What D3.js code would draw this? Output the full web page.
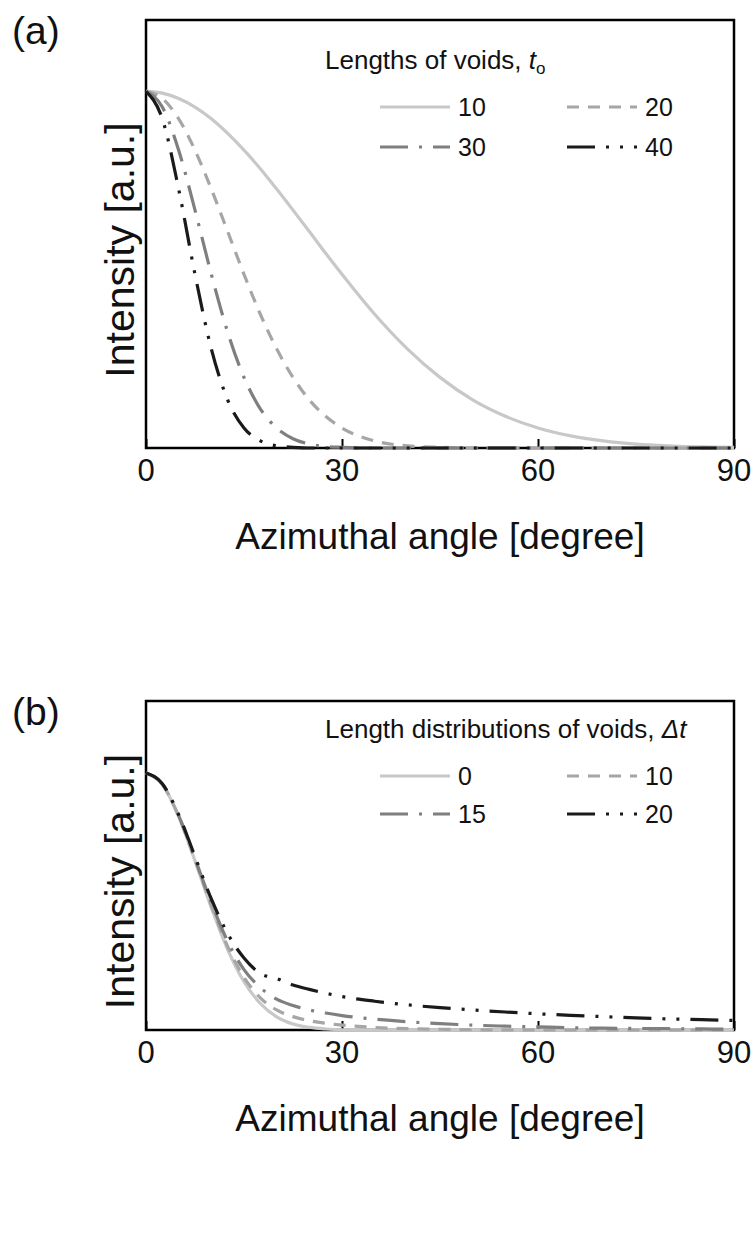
<!DOCTYPE html>
<html>
<head>
<meta charset="utf-8">
<script src="https://cdn.jsdelivr.net/npm/d3@7"></script>
<style>
  body { margin: 0; background: #fff; }
  svg text { font-family: "Liberation Sans", Arial, sans-serif; fill: #111; }
</style>
</head>
<body>
<div id="chart"></div>
<script>
var angles = [0, 2.5, 5, 7.5, 10, 12.5, 15, 17.5, 20, 22.5, 25, 27.5, 30,
              35, 40, 45, 50, 55, 60, 65, 70, 75, 80, 85, 90];

// (a) lengths of voids t0
var a_labels = ["10", "20", "30", "40"];
var a10 = [1, 0.995, 0.980, 0.956, 0.923, 0.882, 0.835, 0.783, 0.726, 0.667, 0.607, 0.546, 0.487,
           0.375, 0.278, 0.198, 0.135, 0.089, 0.056, 0.034, 0.020, 0.011, 0.006, 0.003, 0.002];
var a20 = [1, 0.980, 0.923, 0.835, 0.726, 0.607, 0.487, 0.375, 0.278, 0.198, 0.135, 0.089, 0.056,
           0.020, 0.006, 0.002, 0, 0, 0, 0, 0, 0, 0, 0, 0];
var a30 = [1, 0.956, 0.835, 0.667, 0.487, 0.325, 0.198, 0.110, 0.056, 0.026, 0.011, 0.004, 0.002,
           0, 0, 0, 0, 0, 0, 0, 0, 0, 0, 0, 0];
var a40 = [1, 0.923, 0.726, 0.487, 0.278, 0.135, 0.056, 0.020, 0.006, 0.002, 0, 0, 0,
           0, 0, 0, 0, 0, 0, 0, 0, 0, 0, 0, 0];

// (b) length distributions of voids dt
var b_labels = ["0", "10", "15", "20"];
var b0  = [1, 0.955, 0.830, 0.658, 0.476, 0.313, 0.188, 0.103, 0.051, 0.023, 0.010, 0.004, 0.001,
           0, 0, 0, 0, 0, 0, 0, 0, 0, 0, 0, 0];
var b10 = [1, 0.956, 0.832, 0.662, 0.485, 0.325, 0.205, 0.125, 0.078, 0.052, 0.036, 0.026, 0.019,
           0.010, 0.005, 0.003, 0.001, 0, 0, 0, 0, 0, 0, 0, 0];
var b15 = [1, 0.957, 0.834, 0.667, 0.495, 0.345, 0.235, 0.165, 0.120, 0.095, 0.078, 0.066, 0.056,
           0.042, 0.032, 0.025, 0.019, 0.015, 0.012, 0.009, 0.007, 0.006, 0.005, 0.004, 0.003];
var b20 = [1, 0.958, 0.838, 0.675, 0.510, 0.375, 0.280, 0.220, 0.200, 0.175, 0.158, 0.143, 0.130,
           0.112, 0.098, 0.087, 0.078, 0.070, 0.063, 0.057, 0.052, 0.047, 0.043, 0.040, 0.037];

var x_ticks = [0, 30, 60, 90];

var colours = ["#c8c8c8", "#a6a6a6", "#7f7f7f", "#1a1a1a"];
var dashes  = ["none", "12,9", "28,11,3,11", "28,11,3,11,3,11"];

var svg = d3.select("#chart").append("svg")
    .attr("width", 756)
    .attr("height", 1240);

function drawPanel(p) {
    var x = d3.scaleLinear().domain([0, 90]).range([146, 734]);
    var y = d3.scaleLinear().domain([0, p.ymax]).range([p.bottom, p.top]);
    var g = svg.append("g");

    // panel letter
    g.append("text")
      .attr("x", 12).attr("y", p.top + 24)
      .attr("font-size", "39px")
      .text(p.letter);

    // inward ticks at 30 and 60
    var axis = d3.axisTop(x).tickValues(x_ticks).tickSize(9).tickFormat("");
    var ax = g.append("g").attr("transform", "translate(0," + p.bottom + ")").call(axis);
    ax.select(".domain").remove();
    ax.selectAll("line").attr("stroke", "#000").attr("stroke-width", 2);

    g.selectAll(".xlab")
      .data(x_ticks)
      .enter().append("text")
      .attr("x", function(d) { return x(d); })
      .attr("y", p.bottom + 33)
      .attr("text-anchor", "middle")
      .attr("font-size", "31px")
      .text(function(d) { return d; });

    g.append("text")
      .attr("x", 440).attr("y", p.bottom + 101)
      .attr("text-anchor", "middle")
      .attr("font-size", "37px")
      .text("Azimuthal angle [degree]");

    var ymid = (p.top + p.bottom) / 2;
    g.append("text")
      .attr("transform", "translate(134," + (ymid + 16) + ") rotate(-90)")
      .attr("text-anchor", "middle")
      .attr("font-size", "41px")
      .text("Intensity [a.u.]");

    // frame
    g.append("rect")
      .attr("x", x(0)).attr("y", p.top)
      .attr("width", x(90) - x(0)).attr("height", p.bottom - p.top)
      .attr("fill", "none").attr("stroke", "#000").attr("stroke-width", 2.5);

    var line = d3.line()
      .x(function(d, i) { return x(angles[i]); })
      .y(function(d) { return y(d); })
      .curve(d3.curveMonotoneX);

    p.series.forEach(function(s, i) {
        g.append("path")
          .attr("d", line(s))
          .attr("fill", "none")
          .attr("stroke", colours[i])
          .attr("stroke-width", 3.2)
          .attr("stroke-dasharray", dashes[i]);
    });

    // legend
    var lt = g.append("text")
      .attr("x", 325).attr("y", p.legendTop)
      .attr("font-size", "26px");
    p.title(lt);

    p.labels.forEach(function(l, i) {
        var col = i % 2, row = Math.floor(i / 2);
        var lx = col == 0 ? 380 : 567;
        var ly = p.legendTop + 38 + row * p.rowStep;
        g.append("line")
          .attr("x1", lx).attr("x2", lx + 70)
          .attr("y1", ly).attr("y2", ly)
          .attr("stroke", colours[i])
          .attr("stroke-width", 3.2)
          .attr("stroke-dasharray", dashes[i]);
        g.append("text")
          .attr("x", lx + 78).attr("y", ly + 9)
          .attr("font-size", "25px")
          .text(l);
    });
}

drawPanel({
    letter: "(a)", top: 20, bottom: 448, ymax: 1.2, legendTop: 69, rowStep: 40,
    series: [a10, a20, a30, a40], labels: a_labels,
    title: function(t) {
        t.append("tspan").text("Lengths of voids, ");
        t.append("tspan").attr("font-style", "italic").text("t");
        t.append("tspan").attr("font-size", "17px").attr("dy", 5).text("o");
    }
});

drawPanel({
    letter: "(b)", top: 701, bottom: 1030, ymax: 1.28, legendTop: 738, rowStep: 38,
    series: [b0, b10, b15, b20], labels: b_labels,
    title: function(t) {
        t.append("tspan").text("Length distributions of voids, ");
        t.append("tspan").attr("font-style", "italic").text("\u0394t");
    }
});
</script>
</body>
</html>
